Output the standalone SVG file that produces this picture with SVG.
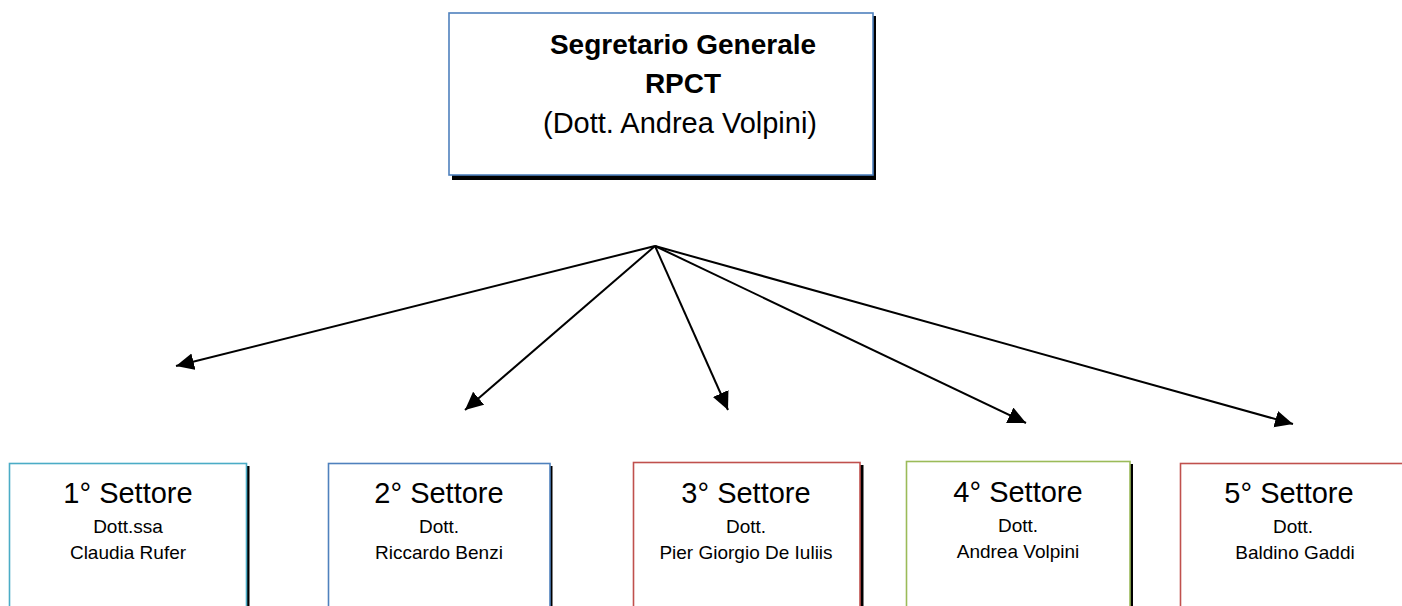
<svg xmlns="http://www.w3.org/2000/svg" width="1402" height="606" viewBox="0 0 1402 606">
<style>
text{font-family:"Liberation Sans",Arial,sans-serif;fill:#000;text-anchor:middle}
.box{fill:#fff;stroke-width:1.6}
.sh{fill:#000}
.t{font-size:28px}
.b{font-weight:bold}
.h{font-size:29px}
.s{font-size:19px}
.c{stroke:#000;stroke-width:2;fill:none;marker-end:url(#ah)}
</style>
<defs>
<marker id="ah" markerUnits="userSpaceOnUse" markerWidth="20" markerHeight="18" refX="18" refY="8.5" orient="auto">
<path d="M0,0 L18,8.5 L0,17 z" fill="#000"/>
</marker>
</defs>
<rect width="1402" height="606" fill="#fff"/>
<g id="connectors">
<line class="c" x1="655" y1="246" x2="176" y2="366"/>
<line class="c" x1="655" y1="246" x2="465" y2="410"/>
<line class="c" x1="655" y1="246" x2="728" y2="410"/>
<line class="c" x1="655" y1="246" x2="1026" y2="423"/>
<line class="c" x1="655" y1="246" x2="1293" y2="424"/>
</g>
<g id="segretario">
<rect class="sh" x="452" y="16" width="424" height="164"/>
<rect class="box" x="449" y="13" width="424" height="162" stroke="#4F81BD"/>
<text class="t b" x="683" y="54">Segretario Generale</text>
<text class="t b" x="683" y="93">RPCT</text>
<text class="t" x="680" y="133" style="font-size:29px">(Dott. Andrea Volpini)</text>
</g>
<g id="settore1">
<rect class="sh" x="12" y="466" width="237.5" height="150"/>
<rect class="box" x="9.5" y="463.5" width="237" height="150" stroke="#4BACC6"/>
<text class="h" x="128" y="503">1° Settore</text>
<text class="s" x="128" y="533">Dott.ssa</text>
<text class="s" x="128" y="559">Claudia Rufer</text>
</g>
<g id="settore2">
<rect class="sh" x="331" y="466" width="221.5" height="150"/>
<rect class="box" x="328.5" y="463.5" width="221.5" height="150" stroke="#4F81BD"/>
<text class="h" x="439" y="503">2° Settore</text>
<text class="s" x="439" y="533">Dott.</text>
<text class="s" x="439" y="559">Riccardo Benzi</text>
</g>
<g id="settore3">
<rect class="sh" x="636" y="465" width="227.5" height="150"/>
<rect class="box" x="633.5" y="462.5" width="226.5" height="150" stroke="#C0504D"/>
<text class="h" x="746" y="503">3° Settore</text>
<text class="s" x="746" y="533">Dott.</text>
<text class="s" x="746" y="559">Pier Giorgio De Iuliis</text>
</g>
<g id="settore4">
<rect class="sh" x="909" y="464" width="224" height="150"/>
<rect class="box" x="906.5" y="461.5" width="223.5" height="150" stroke="#9BBB59"/>
<text class="h" x="1018" y="502">4° Settore</text>
<text class="s" x="1018" y="532">Dott.</text>
<text class="s" x="1018" y="558">Andrea Volpini</text>
</g>
<g id="settore5">
<rect class="box" x="1180.5" y="463.5" width="240" height="150" stroke="#C0504D"/>
<text class="h" x="1289" y="503">5° Settore</text>
<text class="s" x="1293" y="533">Dott.</text>
<text class="s" x="1295" y="559">Baldino Gaddi</text>
</g>
</svg>
